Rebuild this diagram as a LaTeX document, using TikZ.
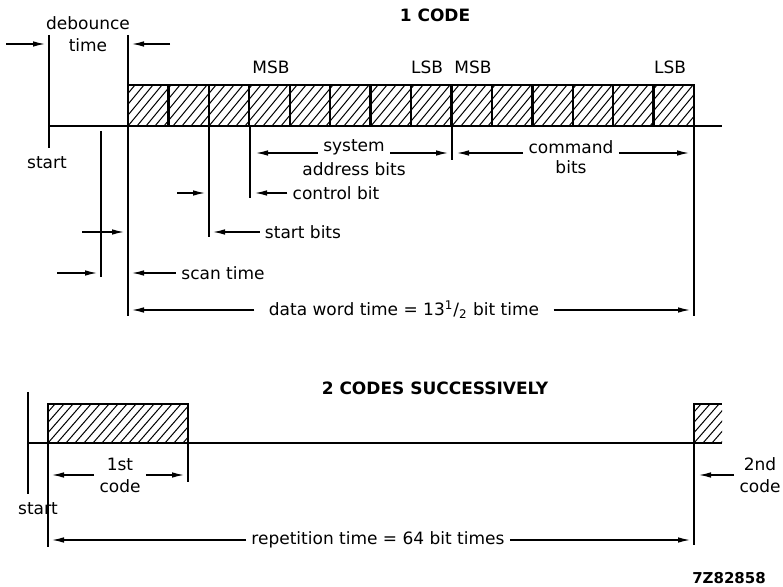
\documentclass[tikz,border=0pt]{standalone}
\usepackage{fontspec}
\setmainfont{DejaVu Sans}
\usepackage{tikz}
\usetikzlibrary{positioning, arrows.meta}

\tikzset{
    lbl/.style={font=\fontsize{8.5}{11}\selectfont, inner sep=2.5pt, align=center},
    ttl/.style={font=\fontsize{8.5}{11}\selectfont\bfseries, inner sep=2pt},
    sig/.style={line width=1.2pt},
    tick/.style={line width=0.6pt},
    hatch/.style={line width=0.5pt},
    dim/.style={line width=0.65pt, -{Latex[length=6pt, width=2.8pt]}}
}
\newcommand{\hatcharea}[4]{%
  \begin{scope}
    \clip (#1,#2) rectangle (#3,#4);
    \pgfmathtruncatemacro{\nhatch}{(#3-#1+40)/9}
    \foreach \k in {0,...,\nhatch}
      \draw[hatch] ({#1-36+9*\k},#4) -- ++(34,{#2-#4});
  \end{scope}}

\begin{document}
\begin{tikzpicture}[x=0.5pt, y=-0.5pt]
    \useasboundingbox (0,0) rectangle (783,587);

    % ---- 1 code ----
    \node[ttl] (code1) at (435,15) {1 CODE};
    \coordinate (st) at (49,126);
    \coordinate (sc) at (101,126);
    \coordinate (db) at (128,126);
    \coordinate (sb) at (209,126);
    \coordinate (cb) at (250,126);
    \coordinate (md) at (452,126);
    \coordinate (en) at (694,126);

    \hatcharea{128}{85}{694}{126}
    \draw[sig] (st) -- (722,126);
    \draw[sig] (db) -- (128,85) -- (694,85) -- (en);
    \foreach \i in {1,...,13}
      \draw[sig] ({128+40.43*\i},85) -- ({128+40.43*\i},126);

    \draw[tick] (49,35) -- (49,148);
    \draw[tick] (128,35) -- (128,316);
    \draw[tick] (101,131) -- (101,277);
    \draw[tick] (sb) -- (209,237);
    \draw[tick] (cb) -- (250,198);
    \draw[tick] (md) -- (452,160);
    \draw[tick] (en) -- (694,316);

    \node[lbl] (msb1) at (271,67) {MSB};
    \node[lbl] (lsb1) at (427,67) {LSB};
    \node[lbl] (msb2) at (473,67) {MSB};
    \node[lbl] (lsb2) at (670,67) {LSB};
    \node[lbl] (start1) at (47,163) {start};

    \node[lbl] (deb) at (88,34) {debounce\\time};
    \coordinate (debrow) at (0,44);
    \draw[dim] ([xshift=3pt]debrow) -- ([xshift=-2pt]st |- debrow);
    \draw[dim] ([xshift=21pt]db |- debrow) -- ([xshift=2pt]db |- debrow);

    \node[lbl] (sys) at (354,147) {system};
    \node[lbl] (addr) at (354,169) {address bits};
    \node[lbl] (cmd) at (571,147) {command};
    \node[lbl] (cbits) at (571,167) {bits};
    \coordinate (bitrow) at (0,153);
    \draw[dim] (sys.west |- bitrow) -- ([xshift=3pt]cb |- bitrow);
    \draw[dim] (sys.east |- bitrow) -- ([xshift=-2pt]md |- bitrow);
    \draw[dim] (cmd.west |- bitrow) -- ([xshift=2.5pt]md |- bitrow);
    \draw[dim] (cmd.east |- bitrow) -- ([xshift=-2.5pt]en |- bitrow);

    \node[lbl] (ctl) at (336,193) {control bit};
    \draw[dim] ([xshift=-16pt]sb |- ctl) -- ([xshift=-2pt]sb |- ctl);
    \draw[dim] (ctl.west) -- ([xshift=2.5pt]cb |- ctl);

    \node[lbl] (stb) at (303,232) {start bits};
    \draw[dim] ([xshift=-23pt]db |- stb) -- ([xshift=-2pt]db |- stb);
    \draw[dim] (stb.west) -- ([xshift=2pt]sb |- stb);

    \node[lbl] (scan) at (223,273) {scan time};
    \draw[dim] ([xshift=-22pt]sc |- scan) -- ([xshift=-2pt]sc |- scan);
    \draw[dim] (scan.west) -- ([xshift=2pt]db |- scan);

    \node[lbl, inner xsep=7pt] (word) at (404,310)
      {data word time = 13\textsuperscript{1}/\textsubscript{2} bit time};
    \draw[dim] (word.west) -- ([xshift=2pt]db |- word);
    \draw[dim] (word.east) -- ([xshift=-2pt]en |- word);

    % ---- 2 codes successively ----
    \node[ttl] (code2) at (435,388) {2 CODES SUCCESSIVELY};
    \coordinate (st2) at (28,443);
    \coordinate (c1a) at (48,443);
    \coordinate (c1b) at (188,443);
    \coordinate (c2a) at (694,443);

    \hatcharea{48}{404}{188}{443}
    \hatcharea{694}{404}{722}{443}
    \draw[sig] (st2) -- (722,443);
    \draw[sig] (c1a) -- (48,404) -- (188,404) -- (c1b);
    \draw[sig] (c2a) -- (694,404) -- (722,404);

    \draw[tick] (28,392) -- (28,494);
    \draw[tick] (c1a) -- (48,547);
    \draw[tick] (c1b) -- (188,482);
    \draw[tick] (c2a) -- (694,545);

    \node[lbl] (start2) at (38,509) {start};

    \node[lbl] (first) at (120,475) {1st\\code};
    \draw[dim] (first.west) -- ([xshift=2pt]c1a |- first);
    \draw[dim] (first.east) -- ([xshift=-2pt]c1b |- first);

    \node[lbl] (second) at (760,475) {2nd\\code};
    \draw[dim] (second.west) -- ([xshift=2.5pt]c2a |- second);

    \node[lbl] (rep) at (378,540) {repetition time = 64 bit times};
    \draw[dim] (rep.west) -- ([xshift=2pt]c1a |- rep);
    \draw[dim] (rep.east) -- ([xshift=-2pt]c2a |- rep);

    \node[ttl, font=\fontsize{7.5}{9}\selectfont\bfseries] (figno) at (729,578) {7Z82858};
\end{tikzpicture}
\end{document}
